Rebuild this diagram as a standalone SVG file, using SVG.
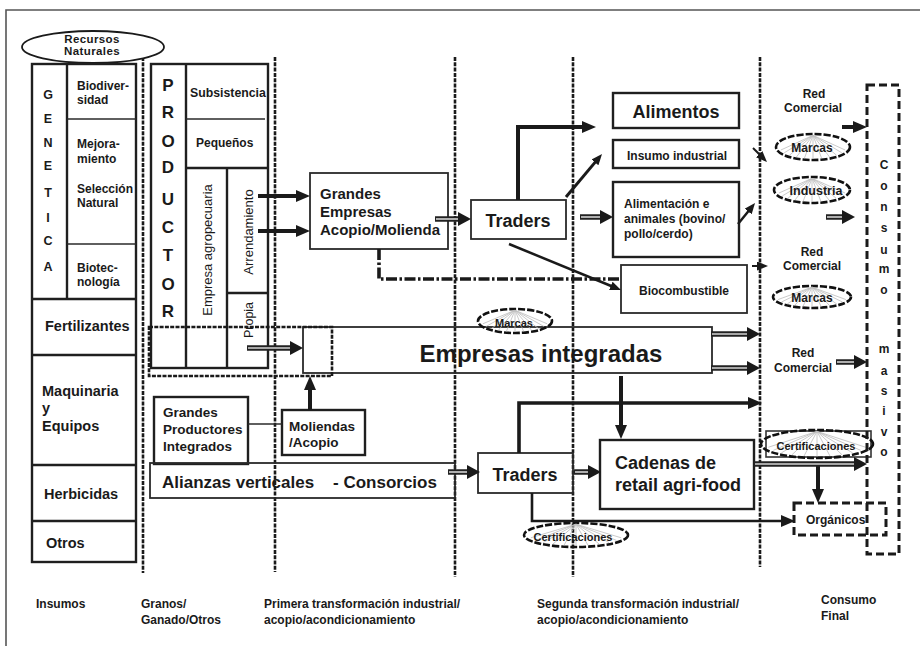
<svg xmlns="http://www.w3.org/2000/svg" xmlns:xlink="http://www.w3.org/1999/xlink" width="920" height="646" viewBox="0 0 920 646">
<defs>
<style>
text{font-family:"Liberation Sans",Arial,Helvetica,sans-serif;font-weight:bold;fill:#1a1a1a}
.n{font-weight:normal}
.box{fill:none;stroke:#2a2a2a;stroke-width:1.8}
.box2{fill:none;stroke:#1f1f1f;stroke-width:2.4}
.ln{fill:none;stroke:#2a2a2a;stroke-width:1.6}
.div{fill:none;stroke:#1a1a1a;stroke-width:2.6;stroke-dasharray:4 1.3}
.dbox{fill:none;stroke:#1a1a1a;stroke-width:3;stroke-dasharray:8 4}
.dell{fill:none;stroke:#111;stroke-width:2.6;stroke-dasharray:7 2}
.thk{fill:none;stroke:#1a1a1a;stroke-width:4}
.dblo{stroke:#222;stroke-width:5.5}
.dbli{stroke:#d4d4d4;stroke-width:1.6}
.hd{fill:#1a1a1a}
.ray line{stroke:#bdbdbd;stroke-width:0.8}
</style>
<marker id="ah" markerUnits="userSpaceOnUse" markerWidth="14" markerHeight="12" refX="4" refY="6" orient="auto"><path d="M0,0 L14,6 L0,12 z" fill="#1a1a1a"/></marker>
<marker id="ahs" markerUnits="userSpaceOnUse" markerWidth="11" markerHeight="9" refX="3" refY="4.5" orient="auto"><path d="M0,0 L11,4.5 L0,9 z" fill="#1a1a1a"/></marker>
<g id="rays" class="ray">
<line x1="0" y1="-0.9" x2="0.869" y2="0.233" vector-effect="non-scaling-stroke"/>
<line x1="0" y1="-0.9" x2="0.779" y2="0.45" vector-effect="non-scaling-stroke"/>
<line x1="0" y1="-0.9" x2="0.636" y2="0.636" vector-effect="non-scaling-stroke"/>
<line x1="0" y1="-0.9" x2="0.45" y2="0.779" vector-effect="non-scaling-stroke"/>
<line x1="0" y1="-0.9" x2="0.233" y2="0.869" vector-effect="non-scaling-stroke"/>
<line x1="0" y1="-0.9" x2="0" y2="0.9" vector-effect="non-scaling-stroke"/>
<line x1="0" y1="-0.9" x2="-0.233" y2="0.869" vector-effect="non-scaling-stroke"/>
<line x1="0" y1="-0.9" x2="-0.45" y2="0.779" vector-effect="non-scaling-stroke"/>
<line x1="0" y1="-0.9" x2="-0.636" y2="0.636" vector-effect="non-scaling-stroke"/>
<line x1="0" y1="-0.9" x2="-0.779" y2="0.45" vector-effect="non-scaling-stroke"/>
<line x1="0" y1="-0.9" x2="-0.869" y2="0.233" vector-effect="non-scaling-stroke"/>
</g>
</defs>
<rect x="0" y="0" width="920" height="646" fill="#fff"/>

<g id="frame">
<path d="M6,646 V10 H920" fill="none" stroke="#555" stroke-width="1.6"/>
</g>

<g id="dividers">
<line class="div" x1="143" y1="57" x2="143" y2="573"/>
<line class="div" x1="275" y1="57" x2="275" y2="572"/>
<line class="div" x1="455" y1="57" x2="455" y2="577"/>
<line class="div" x1="573" y1="57" x2="573" y2="577"/>
<line class="div" x1="760" y1="57" x2="760" y2="567"/>
</g>

<g id="recursos-naturales">
<ellipse cx="93" cy="47" rx="71" ry="16" fill="#fff" stroke="#1a1a1a" stroke-width="1.8"/>
<text x="92" y="43" font-size="11.5" text-anchor="middle" letter-spacing="0.4">Recursos</text>
<text x="92" y="55" font-size="11.5" text-anchor="middle" letter-spacing="0.4">Naturales</text>
</g>

<g id="insumos">
<rect class="box2" x="32" y="64" width="104" height="498"/>
<line class="box2" x1="67" y1="64" x2="67" y2="299"/>
<line class="ln" x1="67" y1="119" x2="136" y2="119"/>
<line class="ln" x1="67" y1="244" x2="136" y2="244"/>
<line class="box2" x1="32" y1="299" x2="136" y2="299"/>
<line class="box2" x1="32" y1="355" x2="136" y2="355"/>
<line class="box2" x1="32" y1="465" x2="136" y2="465"/>
<line class="box2" x1="32" y1="521" x2="136" y2="521"/>
<g font-size="12.5" text-anchor="middle">
<text x="48" y="99">G</text>
<text x="48" y="123">E</text>
<text x="48" y="147">N</text>
<text x="48" y="170">E</text>
<text x="48" y="197">T</text>
<text x="48" y="222">I</text>
<text x="48" y="245">C</text>
<text x="48" y="271">A</text>
</g>
<g font-size="12">
<text x="77" y="90">Biodiver-</text>
<text x="77" y="104">sidad</text>
<text x="77" y="148">Mejora-</text>
<text x="77" y="163">miento</text>
<text x="77" y="193">Selección</text>
<text x="77" y="207">Natural</text>
<text x="77" y="272">Biotec-</text>
<text x="77" y="286">nología</text>
</g>
<g font-size="14.5">
<text x="45" y="331">Fertilizantes</text>
<text x="42" y="396">Maquinaria</text>
<text x="42" y="413">y</text>
<text x="42" y="431">Equipos</text>
<text x="44" y="499">Herbicidas</text>
<text x="46" y="548">Otros</text>
</g>
</g>

<g id="productor">
<rect class="box2" x="151" y="64" width="117" height="304"/>
<line class="box2" x1="186" y1="64" x2="186" y2="368"/>
<line class="box2" x1="227" y1="168" x2="227" y2="368"/>
<line class="ln" x1="186" y1="119" x2="265" y2="119"/>
<line class="box2" x1="186" y1="168" x2="268" y2="168"/>
<line class="box2" x1="227" y1="293" x2="268" y2="293"/>
<g font-size="17" text-anchor="middle">
<text x="168" y="91">P</text>
<text x="168" y="118">R</text>
<text x="168" y="147">O</text>
<text x="168" y="173">D</text>
<text x="168" y="205">U</text>
<text x="168" y="233">C</text>
<text x="168" y="261">T</text>
<text x="168" y="290">O</text>
<text x="168" y="317">R</text>
</g>
<text x="190" y="97" font-size="12.3">Subsistencia</text>
<text x="196" y="147" font-size="12">Pequeños</text>
<text class="n" x="0" y="0" font-size="13" text-anchor="middle" transform="translate(212,250) rotate(-90)">Empresa agropecuaria</text>
<text class="n" x="0" y="0" font-size="13" text-anchor="middle" transform="translate(253,232) rotate(-90)">Arrendamiento</text>
<text class="n" x="0" y="0" font-size="12.5" text-anchor="middle" transform="translate(253,320) rotate(-90)">Propia</text>
</g>

<g id="empresas-integradas">
<rect class="box" x="303" y="327" width="409" height="46"/>
<rect x="149" y="327" width="183" height="49" fill="none" stroke="#1a1a1a" stroke-width="2.6" stroke-dasharray="4 1.3"/>
<text x="541" y="362" font-size="24" text-anchor="middle">Empresas integradas</text>
</g>

<g id="marcas-ei">
<ellipse class="dell" cx="515" cy="321" rx="37" ry="12"/>
<use xlink:href="#rays" transform="translate(515,321) scale(37,12)"/>
<text x="514" y="327" font-size="11" text-anchor="middle">Marcas</text>
</g>

<g id="grandes-productores">
<rect class="box2" x="154" y="397" width="94" height="67"/>
<g font-size="13.5">
<text x="163" y="417">Grandes</text>
<text x="163" y="434">Productores</text>
<text x="163" y="451">Integrados</text>
</g>
</g>

<g id="moliendas">
<rect class="box2" x="282" y="410" width="83" height="45"/>
<text x="289" y="431" font-size="13.5">Moliendas</text>
<text x="289" y="447" font-size="13.5">/Acopio</text>
</g>

<g id="alianzas">
<rect class="box" x="150" y="463" width="305" height="35"/>
<text x="162" y="488" font-size="17">Alianzas verticales</text>
<text x="333" y="488" font-size="17">- Consorcios</text>
</g>

<g id="grandes-empresas">
<rect class="box" x="310" y="173" width="138" height="76"/>
<g font-size="15">
<text x="320" y="199">Grandes</text>
<text x="320" y="217">Empresas</text>
<text x="320" y="235">Acopio/Molienda</text>
</g>
</g>

<g id="traders-1">
<rect class="box" x="471" y="200" width="95" height="39"/>
<text x="518" y="227" font-size="18" text-anchor="middle">Traders</text>
</g>

<g id="traders-2">
<rect class="box" x="478" y="453" width="95" height="40"/>
<text x="525" y="481" font-size="18" text-anchor="middle">Traders</text>
</g>

<g id="alimentos">
<rect class="box2" x="613" y="93" width="126" height="35"/>
<text x="676" y="118" font-size="18" text-anchor="middle">Alimentos</text>
</g>

<g id="insumo-industrial">
<rect class="box2" x="613" y="140" width="126" height="28"/>
<text x="677" y="160" font-size="12" text-anchor="middle">Insumo industrial</text>
</g>

<g id="alimentacion-animales">
<rect class="box2" x="613" y="182" width="126" height="75"/>
<g font-size="12">
<text x="624" y="208">Alimentación e</text>
<text x="624" y="223">animales (bovino/</text>
<text x="624" y="238">pollo/cerdo)</text>
</g>
</g>

<g id="biocombustible">
<rect class="box" x="621" y="265" width="126" height="48"/>
<text x="684" y="295" font-size="12" text-anchor="middle">Biocombustible</text>
</g>

<g id="cadenas-retail">
<rect class="box2" x="600" y="440" width="154" height="69"/>
<text x="615" y="469" font-size="18">Cadenas de</text>
<text x="615" y="491" font-size="18">retail agri-food</text>
</g>

<g id="certificaciones-1">
<ellipse class="dell" cx="576" cy="535" rx="52" ry="12"/>
<use xlink:href="#rays" transform="translate(576,535) scale(52,12)"/>
<text x="573" y="541" font-size="11" text-anchor="middle">Certificaciones</text>
</g>

<g id="red-comercial-1">
<text x="814" y="98" font-size="12" text-anchor="middle">Red</text>
<text x="813" y="112" font-size="12" text-anchor="middle">Comercial</text>
</g>
<g id="marcas-1">
<ellipse class="dell" cx="813" cy="147" rx="37" ry="13"/>
<use xlink:href="#rays" transform="translate(813,147) scale(37,13)"/>
<text x="812" y="152" font-size="12" text-anchor="middle">Marcas</text>
</g>
<g id="industria">
<ellipse class="dell" cx="812" cy="190" rx="38" ry="13"/>
<use xlink:href="#rays" transform="translate(812,190) scale(38,13)"/>
<text x="816" y="195" font-size="12.5" text-anchor="middle">Industria</text>
</g>
<g id="red-comercial-2">
<text x="812" y="256" font-size="12" text-anchor="middle">Red</text>
<text x="812" y="270" font-size="12" text-anchor="middle">Comercial</text>
</g>
<g id="marcas-2">
<ellipse class="dell" cx="812" cy="297" rx="39" ry="11"/>
<use xlink:href="#rays" transform="translate(812,297) scale(39,11)"/>
<text x="812" y="302" font-size="12" text-anchor="middle">Marcas</text>
</g>
<g id="red-comercial-3">
<text x="803" y="357" font-size="12" text-anchor="middle">Red</text>
<text x="803" y="372" font-size="12" text-anchor="middle">Comercial</text>
</g>

<g id="certificaciones-2">
<rect x="766" y="431" width="105" height="26" fill="none" stroke="#333" stroke-width="1.6"/>
<ellipse class="dell" cx="817" cy="444" rx="56" ry="14"/>
<use xlink:href="#rays" transform="translate(817,444) scale(56,14)"/>
<text x="816" y="450" font-size="11" text-anchor="middle">Certificaciones</text>
</g>

<g id="organicos">
<rect class="dbox" x="794" y="503" width="92" height="32"/>
<text x="806" y="524" font-size="12">Orgánicos</text>
</g>

<g id="consumo-masivo">
<rect class="dbox" x="867" y="85" width="32" height="469"/>
<g font-size="12" text-anchor="middle">
<text x="884" y="169">C</text>
<text x="884" y="190">o</text>
<text x="884" y="211">n</text>
<text x="884" y="232">s</text>
<text x="884" y="254">u</text>
<text x="884" y="273">m</text>
<text x="884" y="294">o</text>
<text x="884" y="353">m</text>
<text x="884" y="375">a</text>
<text x="884" y="395">s</text>
<text x="884" y="415">i</text>
<text x="884" y="436">v</text>
<text x="884" y="456">o</text>
</g>
</g>

<g id="connectors">
<path class="thk" d="M258,196 H300" marker-end="url(#ah)"/>
<path class="thk" d="M258,231 H300" marker-end="url(#ah)"/>
<path class="thk" d="M518,200 V127 H586" marker-end="url(#ah)"/>
<path class="thk" d="M310,410 V386" marker-end="url(#ah)"/>
<path class="thk" d="M621,376 V429" marker-end="url(#ah)"/>
<path class="thk" d="M818,464 V493" marker-end="url(#ah)"/>
<path class="thk" d="M842,127 H857" marker-end="url(#ah)"/>
<path fill="none" stroke="#1a1a1a" stroke-width="3.6" d="M519,453 V403 H752" marker-end="url(#ah)"/>
<path fill="none" stroke="#1a1a1a" stroke-width="2.6" d="M532,493 V521 H785" marker-end="url(#ah)"/>
<path fill="none" stroke="#1a1a1a" stroke-width="3" d="M566,197 L596.9,160.1" marker-end="url(#ahs)"/>
<path fill="none" stroke="#1a1a1a" stroke-width="2.5" d="M509,244 L613.6,287" marker-end="url(#ahs)"/>
<path fill="none" stroke="#1a1a1a" stroke-width="2.5" d="M738,224 L750,209.2" marker-end="url(#ahs)"/>
<path fill="none" stroke="#1a1a1a" stroke-width="2" d="M753,148 L761.3,156.3" marker-end="url(#ahs)"/>
<path fill="none" stroke="#1a1a1a" stroke-width="2" d="M752,266 H760" marker-end="url(#ahs)"/>
<path fill="none" stroke="#1a1a1a" stroke-width="3.6" stroke-dasharray="11 2.5 2.5 2.5" d="M379,249 V279 H621"/>
<line class="ln" x1="248" y1="424" x2="282" y2="424"/>
<g>
<line class="dblo" x1="247" y1="348" x2="293" y2="348"/><line class="dbli" x1="248" y1="348" x2="290" y2="348"/><polygon class="hd" points="290,341 303,348 290,355"/>
<line class="dblo" x1="435" y1="219" x2="461" y2="219"/><line class="dbli" x1="436" y1="219" x2="458" y2="219"/><polygon class="hd" points="458,212 471,219 458,226"/>
<line class="dblo" x1="580" y1="217" x2="603" y2="217"/><line class="dbli" x1="581" y1="217" x2="600" y2="217"/><polygon class="hd" points="600,210 613,217 600,224"/>
<line class="dblo" x1="448" y1="472" x2="470" y2="472"/><line class="dbli" x1="449" y1="472" x2="467" y2="472"/><polygon class="hd" points="467,465 480,472 467,479"/>
<line class="dblo" x1="574" y1="472" x2="591" y2="472"/><line class="dbli" x1="575" y1="472" x2="588" y2="472"/><polygon class="hd" points="588,465 601,472 588,479"/>
<line class="dblo" x1="711" y1="334" x2="750" y2="334"/><line class="dbli" x1="712" y1="334" x2="747" y2="334"/><polygon class="hd" points="747,327 760,334 747,341"/>
<line class="dblo" x1="711" y1="368" x2="750" y2="368"/><line class="dbli" x1="712" y1="368" x2="747" y2="368"/><polygon class="hd" points="747,361 760,368 747,375"/>
<line class="dblo" x1="836" y1="362" x2="857" y2="362"/><line class="dbli" x1="837" y1="362" x2="854" y2="362"/><polygon class="hd" points="854,355 867,362 854,369"/>
<line class="dblo" x1="826" y1="217" x2="845" y2="217"/><line class="dbli" x1="827" y1="217" x2="842" y2="217"/><polygon class="hd" points="842,210 855,217 842,224"/>
<line class="dblo" x1="754" y1="464" x2="857" y2="464"/><line class="dbli" x1="755" y1="464" x2="854" y2="464"/><polygon class="hd" points="854,457 867,464 854,471"/>
</g>
</g>

<g id="stage-labels" font-size="12">
<text x="36" y="608">Insumos</text>
<text x="141" y="608">Granos/</text>
<text x="141" y="624">Ganado/Otros</text>
<text x="264" y="608">Primera transformación industrial/</text>
<text x="264" y="624">acopio/acondicionamiento</text>
<text x="537" y="608">Segunda transformación industrial/</text>
<text x="537" y="624">acopio/acondicionamiento</text>
<text x="821" y="604">Consumo</text>
<text x="821" y="620">Final</text>
</g>
</svg>
